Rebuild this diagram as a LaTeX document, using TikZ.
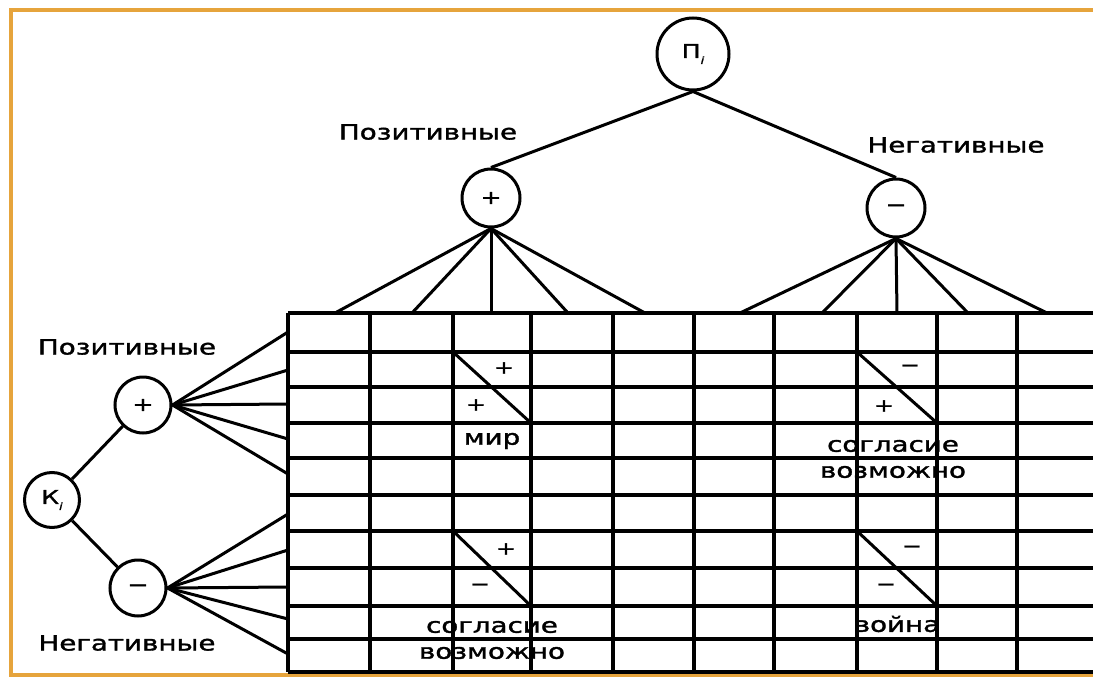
\documentclass[tikz,border=0pt]{standalone}
\usepackage{fontspec}
\setmainfont{DejaVu Sans}[FakeStretch=1.32,FakeBold=1.6]
\definecolor{frameorange}{HTML}{E6A43C}
\begin{document}
\begin{tikzpicture}[x=1pt,y=-1pt,
  circ/.style={circle,draw,line width=3pt,inner sep=0pt,font=\fontsize{19}{19}\selectfont},
  link/.style={line width=3pt},
  gridline/.style={line width=3.5pt},
  lbl/.style={font=\fontsize{21}{24}\selectfont,inner sep=0pt},
  sgn/.style={font=\fontsize{18}{18}\selectfont,inner sep=0pt},
  framestyle/.style={draw=frameorange,line width=4pt}]
\clip (0,0) rectangle (1093,677);
\fill[white] (0,0) rectangle (1093,677);
% frame
\draw[framestyle] (1100,10) -- (11,10) -- (11,675) -- (1100,675);
% table grid
\foreach \y in {313,352,387,423,458,495,531,568,606,639,672}
  \draw[gridline] (288,\y) -- (1100,\y);
\foreach \x in {288,370,453,531,613,694,774,857,937,1017,1098}
  \draw[gridline] (\x,313) -- (\x,672);
% table anchor coordinates
\foreach \i/\y in {1/332,2/370,3/404,4/439,5/474,6/514,7/550,8/587,9/619,10/654}
  \coordinate (r\i) at (288,\y);
\foreach \i/\x in {1/335,2/412,3/491,4/568,5/645,6/740,7/822,8/897,9/968,10/1047}
  \coordinate (c\i) at (\x,313);
% top tree
\node[circ,minimum size=72pt] (P) at (693,54) {П\raisebox{-6pt}{\fontsize{10}{10}\selectfont\itshape i}};
\node[circ,minimum size=58pt] (tp) at (491,198) {+};
\node[circ,minimum size=58pt] (tm) at (896,208) {−};
\draw[link] (P.south) -- (tp.north);
\draw[link] (P.south) -- (tm.north);
\foreach \i in {1,...,5} \draw[link] (tp.south) -- (c\i);
\foreach \i in {6,...,10} \draw[link] (tm.south) -- (c\i);
\node[lbl] (tplbl) at (428,132) {Позитивные};
\node[lbl] (tmlbl) at (956,145) {Негативные};
% left tree
\node[circ,minimum size=55pt] (K) at (52,500) {К\raisebox{-6pt}{\fontsize{10}{10}\selectfont\itshape i}};
\node[circ,minimum size=56pt] (lp) at (143,405) {+};
\node[circ,minimum size=56pt] (lm) at (138,588) {−};
\draw[link] (K) -- (lp);
\draw[link] (K) -- (lm);
\foreach \i in {1,...,5} \draw[link] (lp.east) -- (r\i);
\foreach \i in {6,...,10} \draw[link] (lm.east) -- (r\i);
\node[lbl] (lplbl) at (127,347) {Позитивные};
\node[lbl] (lmlbl) at (127,643) {Негативные};
% cells
\draw[link] (453,352) -- (531,423);
\node[sgn] (a1) at (504,368) {+};
\node[sgn] (a2) at (476,405) {+};
\node[lbl] (mir) at (492,441) {мир};
\draw[link] (857,352) -- (937,423);
\node[sgn] (b1) at (910,368) {−};
\node[sgn] (b2) at (884,406) {+};
\node[lbl] (s1) at (893,446) {согласие};
\node[lbl] (v1) at (893,472) {возможно};
\draw[link] (453,531) -- (531,606);
\node[sgn] (c1s) at (506,549) {+};
\node[sgn] (c2s) at (480,587) {−};
\node[lbl] (s2) at (492,627) {согласие};
\node[lbl] (v2) at (492,653) {возможно};
\draw[link] (857,531) -- (937,606);
\node[sgn] (d1) at (912,549) {−};
\node[sgn] (d2) at (886,587) {−};
\node[lbl] (war) at (897,624) {война};
\end{tikzpicture}
\end{document}
